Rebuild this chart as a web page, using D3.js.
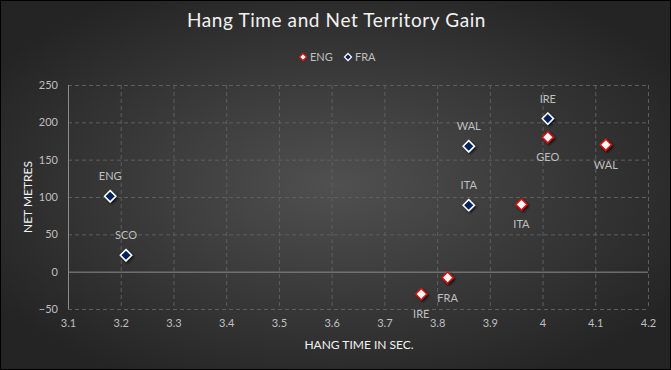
<!DOCTYPE html>
<html>
<head>
<meta charset="utf-8">
<script src="https://cdn.jsdelivr.net/npm/d3@7"></script>
<style>
  body { margin: 0; background: #fff; }
  svg { display: block; font-family: Lato, "Open Sans", sans-serif; }
</style>
</head>
<body>
<div class="chart"></div>
<script>
// series data
let engLabels = ["GEO", "WAL", "ITA", "FRA", "IRE"];
let engHang = [4.01, 4.12, 3.96, 3.82, 3.77];
let engNet = [180, 170, 90, -8, -30];

let fraLabels = ["ENG", "SCO", "WAL", "ITA", "IRE"];
let fraHang = [3.18, 3.21, 3.86, 3.86, 4.01];
let fraNet = [101, 22, 168, 89, 205];

let xTicks = [3.1, 3.2, 3.3, 3.4, 3.5, 3.6, 3.7, 3.8, 3.9, 4, 4.1, 4.2];
let yTicks = [-50, 0, 50, 100, 150, 200, 250];

let svgW = 671;
let svgH = 370;
let margin = { top: 85, right: 23, bottom: 61, left: 68 };
let width = svgW - margin.left - margin.right;
let height = svgH - margin.top - margin.bottom;

let svg = d3.select(".chart").append("svg")
  .attr("width", svgW)
  .attr("height", svgH);

let defs = svg.append("defs");
let grad = defs.append("radialGradient")
  .attr("id", "bg")
  .attr("cx", "50%").attr("cy", "50%").attr("r", "60%");
grad.append("stop").attr("offset", "0%").attr("stop-color", "#505050");
grad.append("stop").attr("offset", "100%").attr("stop-color", "#242424");

let shadow = defs.append("filter").attr("id", "sh")
  .attr("x", "-50%").attr("y", "-50%").attr("width", "200%").attr("height", "200%");
shadow.append("feDropShadow")
  .attr("dx", 1.5).attr("dy", 1.5).attr("stdDeviation", 1)
  .attr("flood-color", "#000").attr("flood-opacity", 0.7);

svg.append("rect")
  .attr("x", 0.5).attr("y", 0.5)
  .attr("width", svgW - 1).attr("height", svgH - 1)
  .attr("fill", "url(#bg)")
  .attr("stroke", "#000");

// title
svg.append("text")
  .attr("x", svgW / 2 + 1).attr("y", 27)
  .attr("text-anchor", "middle")
  .attr("fill", "#f2f2f2")
  .style("font-size", "19px")
  .style("letter-spacing", "0.6px")
  .text("Hang Time and Net Territory Gain");

let chartGroup = svg.append("g")
  .attr("transform", `translate(${margin.left}, ${margin.top})`);

let x = d3.scaleLinear().domain([3.1, 4.2]).range([0, width]);
let y = d3.scaleLinear().domain([-50, 250]).range([height, 0]);

// gridlines
chartGroup.append("g").selectAll("line")
  .data(yTicks.filter(d => d !== 0))
  .enter().append("line")
  .attr("x1", 0).attr("x2", width)
  .attr("y1", d => y(d) + 0.5).attr("y2", d => y(d) + 0.5)
  .attr("stroke", "#5e5e5e")
  .attr("stroke-dasharray", "4,3");

chartGroup.append("g").selectAll("line")
  .data(xTicks.slice(1))
  .enter().append("line")
  .attr("x1", d => x(d) + 0.5).attr("x2", d => x(d) + 0.5)
  .attr("y1", 0).attr("y2", height)
  .attr("stroke", "#5e5e5e")
  .attr("stroke-dasharray", "4,3");

// y axis line and zero line
chartGroup.append("line")
  .attr("x1", 0.5).attr("x2", 0.5)
  .attr("y1", 0).attr("y2", height)
  .attr("stroke", "#8c8c8c");

chartGroup.append("line")
  .attr("x1", 0).attr("x2", width)
  .attr("y1", y(0) + 0.5).attr("y2", y(0) + 0.5)
  .attr("stroke", "#8c8c8c");

// tick labels
let leftAxis = d3.axisLeft(y).tickValues(yTicks).tickSize(0).tickPadding(10);
let yAxis = chartGroup.append("g").call(leftAxis);
yAxis.select(".domain").remove();
yAxis.selectAll("text")
  .attr("fill", "#bfbfbf")
  .style("font-size", "11px")
  .style("font-family", "Lato, 'Open Sans', sans-serif");

let bottomAxis = d3.axisBottom(x).tickValues(xTicks).tickSize(0).tickPadding(10)
  .tickFormat(d3.format(""));
let xAxis = chartGroup.append("g")
  .attr("transform", `translate(0, ${height})`)
  .call(bottomAxis);
xAxis.select(".domain").remove();
xAxis.selectAll("text")
  .attr("fill", "#bfbfbf")
  .style("font-size", "11px")
  .style("font-family", "Lato, 'Open Sans', sans-serif");

// axis titles
svg.append("text")
  .attr("x", margin.left + width / 2 + 1)
  .attr("y", 349)
  .attr("text-anchor", "middle")
  .attr("fill", "#f2f2f2")
  .style("font-size", "12px")
  .text("HANG TIME IN SEC.");

svg.append("text")
  .attr("transform", `translate(32, ${margin.top + height / 2}) rotate(-90)`)
  .attr("text-anchor", "middle")
  .attr("fill", "#f2f2f2")
  .style("font-size", "12px")
  .text("NET METRES");

// markers
let diamond = d3.symbol().type(d3.symbolDiamond2).size(80);

function drawSeries(labels, xs, ys, fill, stroke, above) {
  let data = labels.map((l, i) => ({ label: l, x: xs[i], y: ys[i] }));
  let g = chartGroup.append("g");
  g.selectAll("path")
    .data(data)
    .enter().append("path")
    .attr("d", diamond)
    .attr("transform", d => `translate(${x(d.x)}, ${y(d.y)})`)
    .attr("fill", fill)
    .attr("stroke", stroke)
    .attr("stroke-width", 1.5)
    .attr("filter", "url(#sh)");
  g.selectAll("text")
    .data(data)
    .enter().append("text")
    .attr("x", d => x(d.x))
    .attr("y", d => y(d.y) + (above ? -16 : 24))
    .attr("text-anchor", "middle")
    .attr("fill", "#bfbfbf")
    .style("font-size", "11px")
    .text(d => d.label);
}

drawSeries(engLabels, engHang, engNet, "#ffffff", "#e01010", false);
drawSeries(fraLabels, fraHang, fraNet, "#002060", "#ffffff", true);

// legend
let legend = svg.append("g").attr("transform", "translate(0, 57)");
let legendItems = [
  { name: "ENG", fill: "#ffffff", stroke: "#e01010", x: 303 },
  { name: "FRA", fill: "#002060", stroke: "#ffffff", x: 348 }
];
legendItems.forEach(item => {
  legend.append("path")
    .attr("d", d3.symbol().type(d3.symbolDiamond2).size(32))
    .attr("transform", `translate(${item.x}, 0)`)
    .attr("fill", item.fill)
    .attr("stroke", item.stroke)
    .attr("stroke-width", 1.2);
  legend.append("text")
    .attr("x", item.x + 7)
    .attr("y", 4)
    .attr("fill", "#bfbfbf")
    .style("font-size", "11px")
    .text(item.name);
});
</script>
</body>
</html>
